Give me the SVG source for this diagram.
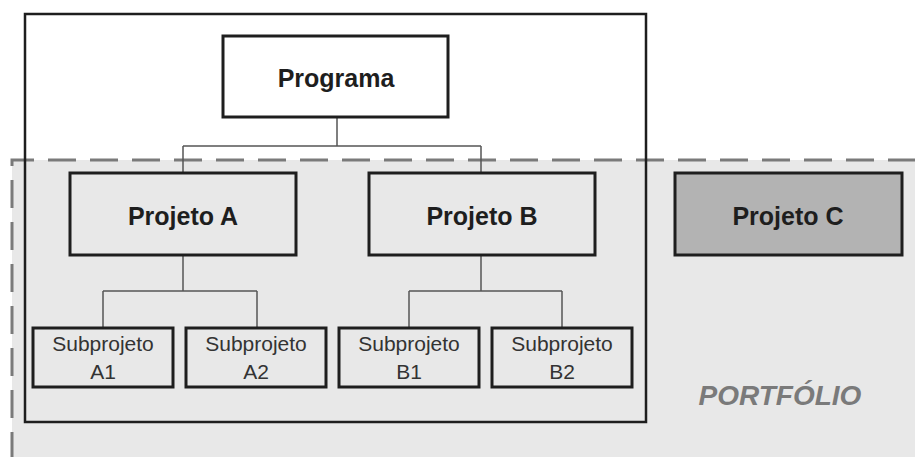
<svg xmlns="http://www.w3.org/2000/svg" width="915" height="457" viewBox="0 0 915 457">
<style>
.box{stroke:#1e1e1e;stroke-width:3}
.g{fill:#e8e8e8}
.big{font-family:"Liberation Sans",Arial,sans-serif;font-weight:bold;font-size:25px;fill:#1e1e1e;text-anchor:middle}
.sub{font-family:"Liberation Sans",Arial,sans-serif;font-size:21px;fill:#333;text-anchor:middle}
.con{stroke:#555;stroke-width:1.5;fill:none}
.dash{stroke:#7a7a7a;stroke-width:3;stroke-dasharray:28 14;fill:none}
</style>
<rect width="915" height="457" fill="#fff"/>
<g id="portfolio">
<rect x="12" y="160" width="910" height="300" fill="#e8e8e8"/>
<path class="dash" d="M12 460 V160 H915"/>
<text x="780" y="405" font-family="'Liberation Sans',Arial,sans-serif" font-weight="bold" font-style="italic" font-size="28" fill="#7a7a7a" text-anchor="middle">PORTFÓLIO</text>
</g>
<g id="programa-area">
<rect x="25" y="14" width="621" height="408" fill="none" stroke="#1e1e1e" stroke-width="2.5"/>
</g>
<g id="connectors">
<path class="con" d="M337 117 V146 M183 146 H481 M183 146 V173 M481 146 V173"/>
<path class="con" d="M183 255 V291 M103 291 H257 M103 291 V328 M257 291 V328"/>
<path class="con" d="M481 255 V291 M409 291 H562 M409 291 V328 M562 291 V328"/>
</g>
<g id="programa">
<rect class="box" x="223" y="36" width="225" height="81" fill="#fff"/>
<text class="big" x="336" y="87">Programa</text>
</g>
<g id="projeto-a">
<rect class="box g" x="70" y="173" width="226" height="82"/>
<text class="big" x="183" y="225">Projeto A</text>
</g>
<g id="projeto-b">
<rect class="box g" x="369" y="173" width="226" height="82"/>
<text class="big" x="482" y="225">Projeto B</text>
</g>
<g id="projeto-c">
<rect class="box" x="675" y="173" width="227" height="82" fill="#b3b3b3"/>
<text class="big" x="788" y="225">Projeto C</text>
</g>
<g id="sub-a1">
<rect class="box g" x="33" y="328" width="140" height="59"/>
<text class="sub" x="103" y="351">Subprojeto</text>
<text class="sub" x="103" y="379">A1</text>
</g>
<g id="sub-a2">
<rect class="box g" x="186" y="328" width="140" height="59"/>
<text class="sub" x="256" y="351">Subprojeto</text>
<text class="sub" x="256" y="379">A2</text>
</g>
<g id="sub-b1">
<rect class="box g" x="339" y="328" width="140" height="59"/>
<text class="sub" x="409" y="351">Subprojeto</text>
<text class="sub" x="409" y="379">B1</text>
</g>
<g id="sub-b2">
<rect class="box g" x="492" y="328" width="140" height="59"/>
<text class="sub" x="562" y="351">Subprojeto</text>
<text class="sub" x="562" y="379">B2</text>
</g>
</svg>
